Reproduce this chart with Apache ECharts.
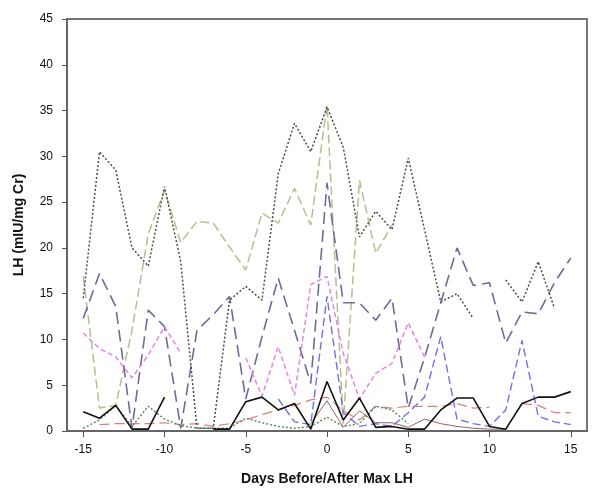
<!DOCTYPE html>
<html>
<head>
<meta charset="utf-8">
<script src="https://cdn.jsdelivr.net/npm/echarts@6/dist/echarts.min.js"></script>
<style>html,body{margin:0;padding:0;background:#fff;}#c{width:600px;height:493px;}</style>
</head>
<body>
<div id="c"></div>
<script>
var days = [-15,-14,-13,-12,-11,-10,-9,-8,-7,-6,-5,-4,-3,-2,-1,0,1,2,3,4,5,6,7,8,9,10,11,12,13,14,15];
var xTicks = [-15,-10,-5,0,5,10,15];

var grayDotted = [14.5,30.5,28.5,20,18,26.7,18.5,0.3,0.3,14.3,15.8,14.3,28.1,33.6,30.5,35.4,31,21.2,24,22,29.8,22,14.1,15,12.3,null,16.5,14.1,18.5,13.4,null];
var oliveDashed = [16.9,2.5,2.8,11,21.5,26.3,20.6,22.9,22.7,20.1,17.6,23.8,22.7,26.5,22.5,35.6,0.8,27.4,19.4,22.5,null,null,null,null,null,null,null,null,null,null,null];
var slateDashed = [12.3,17.2,13.6,0.3,13.2,11.4,0.3,11,12.7,14.7,3.5,10.3,16.7,11,5.2,27.1,14,14,12.1,14.5,2.5,8,14,20,15.9,16.2,9.6,13,12.8,16.2,18.9];
var blueDashed = [null,null,null,null,null,null,null,null,null,null,null,null,3.5,1,0.7,14.7,2,0.5,0.8,0.5,2,3.7,10.3,1.3,0.8,0.5,2.3,9.9,1.6,1,0.7];
var pinkDashed = [10.7,9,8.1,5.8,8.3,11.4,8.5,null,null,null,8,3.8,9.2,3.9,16,16.9,8.5,3.5,6.3,7.4,11.8,8.1,null,null,null,null,null,null,null,null,null];
var blackSolid = [2.1,1.4,2.8,0.2,0.2,3.7,null,null,0.2,0.2,3.2,3.7,2.3,3,0.2,5.4,1.2,3.6,0.4,0.5,0.2,0.2,2.3,3.6,3.6,0.5,0.2,3,3.7,3.7,4.3];
var redDashed = [null,0.7,0.8,0.8,0.8,0.9,0.7,0.8,0.5,0.8,1.2,1.8,2.3,2.8,3.4,3.7,2.2,1.2,2.7,2.5,2.7,2.7,2.7,3,2.5,2.6,null,3,2.8,2,2];
var greenDotted = [0.3,1.2,2.8,0.5,2.7,1.3,0.6,0.3,0.3,0.3,1.4,0.9,0.5,0.3,0.5,1.5,0.5,0.8,2.7,2.3,0.8,null,null,null,null,null,null,null,null,null,null];
var brownSolid = [null,null,null,null,null,null,null,null,null,null,null,null,null,null,0.8,3.3,0.4,2.2,0.9,0.9,0.4,1.3,0.8,0.5,0.3,0.2,0.2,null,null,null,null];

function pairs(vals){ return days.map(function(d,i){ return [d, vals[i]]; }); }
function mk(name, vals, color, type, width){
  return { name: name, type: 'line', data: pairs(vals), showSymbol: false, symbol: 'none',
    connectNulls: false, animation: false,
    lineStyle: { color: color, type: type, width: width || 1.5 } };
}

var chart = echarts.init(document.getElementById('c'), null, {renderer: 'canvas'});
chart.setOption({
  animation: false,
  backgroundColor: '#fff',
  grid: { left: 67, right: 13, top: 19, bottom: 62, show: true, borderColor: '#777', borderWidth: 2 },
  xAxis: {
    type: 'value', min: -16, max: 16,
    name: 'Days Before/After Max LH', nameLocation: 'middle', nameGap: 41,
    nameTextStyle: { fontFamily: 'Liberation Sans', fontWeight: 'bold', fontSize: 14, color: '#111' },
    axisLine: { show: true, onZero: false, lineStyle: { color: '#666', width: 2 } },
    axisTick: { show: true, inside: false, length: 6, customValues: xTicks, lineStyle: { color: '#555' } },
    axisLabel: { customValues: xTicks, margin: 13, fontFamily: 'Liberation Sans', fontSize: 12, color: '#111' },
    splitLine: { show: false }
  },
  yAxis: {
    type: 'value', min: 0, max: 45, interval: 5,
    name: 'LH (mIU/mg Cr)', nameLocation: 'middle', nameGap: 41, nameRotate: 90,
    nameTextStyle: { fontFamily: 'Liberation Sans', fontWeight: 'bold', fontSize: 14, color: '#111' },
    axisLine: { show: true, onZero: false, lineStyle: { color: '#666', width: 2 } },
    axisTick: { show: true, inside: false, length: 5, lineStyle: { color: '#555' } },
    axisLabel: { margin: 14, fontFamily: 'Liberation Sans', fontSize: 12, color: '#111' },
    splitLine: { show: false }
  },
  series: [
    mk('olive', oliveDashed, '#bcbc8e', [9,4], 1.5),
    mk('slate', slateDashed, '#6c6c9c', [12,6], 1.6),
    mk('blue', blueDashed, '#6f72e6', [8,4], 1.4),
    mk('pink', pinkDashed, '#e57ee5', [5,3], 1.4),
    mk('red', redDashed, '#e27a7a', [10,5], 1.2),
    mk('green', greenDotted, '#4f8a5a', [2,2], 1.4),
    mk('brown', brownSolid, '#9a6060', 'solid', 1),
    mk('gray', grayDotted, '#4d4d4d', [2,2], 1.5),
    mk('black', blackSolid, '#111', 'solid', 1.6)
  ]
});
</script>
</body>
</html>
